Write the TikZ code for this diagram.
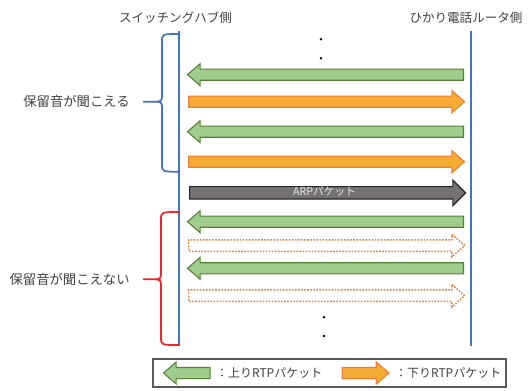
\documentclass[tikz,border=0pt]{standalone}
\usepackage{fontspec}
\setmainfont{Noto Sans CJK JP}
\usetikzlibrary{shapes.arrows,positioning}

\definecolor{lineblue}{HTML}{4472C4}
\definecolor{upfill}{RGB}{160,204,140}
\definecolor{updraw}{RGB}{84,130,53}
\definecolor{downfill}{RGB}{245,172,52}
\definecolor{downdraw}{HTML}{ED7D31}
\definecolor{arpfill}{RGB}{118,113,115}
\definecolor{bracered}{RGB}{236,38,38}
\definecolor{txtgray}{RGB}{64,64,64}

\begin{document}
\begin{tikzpicture}[%
    x=0.75pt, y=-0.75pt,        % one unit is one pixel of the sketch
    every node/.style={text=txtgray},
    ]
\useasboundingbox (0,0) rectangle (530,390);
% -------------------------------------------------
% Arrow and line styles
\tikzset{
  pkt/.style={single arrow, minimum height=207pt, minimum width=15.75pt,
    single arrow head extend=4.1pt, single arrow tip angle=82,
    inner xsep=0pt, inner ysep=3.75pt},
  uppkt/.style={pkt, shape border rotate=180, anchor=tail,
    fill=upfill, draw=updraw, line width=0.8pt},
  downpkt/.style={pkt, anchor=tail, fill=downfill, draw=downdraw, line width=0.8pt},
  lostpkt/.style={pkt, anchor=tail, fill=white, draw=downdraw,
    dash pattern=on 1.2pt off 1.1pt, line width=1.1pt},
  side/.style={draw=lineblue, line width=1.5pt},
  brace/.style={line width=1.3pt},
  title/.style={font=\fontsize{9.4}{11}\selectfont},
  lbl/.style={font=\fontsize{10}{12}\selectfont},
  legend/.style={font=\fontsize{9}{11}\selectfont}
}
% -------------------------------------------------
% Both sides
\node [title] (hubSide) at (175.5,18) {スイッチングハブ側};
\node [title] (routerSide) at (466,18) {ひかり電話ルータ側};
\coordinate (hubTop) at (179,31);
\coordinate (hubEnd) at (179,346);
\coordinate (routerTop) at (471,31);
\coordinate (routerEnd) at (471,346);
\draw [side] (hubTop) -- (hubEnd);
\draw [side] (routerTop) -- (routerEnd);

% dots above and below
\fill [black] (321,39.3) circle (1pt) (321,58.3) circle (1pt);
\fill [black] (324,317.3) circle (1pt) (324,336) circle (1pt);

% -------------------------------------------------
% Packets, top to bottom
\node [uppkt] (up1) at (464,74.7) {};
\node [downpkt] (down1) at (188,101.7) {};
\node [uppkt] (up2) at (464,131.7) {};
\node [downpkt] (down2) at (188,161.7) {};
\node [pkt, anchor=tail, fill=arpfill, draw=black!85, line width=0.9pt,
  minimum width=18pt, single arrow head extend=4.9pt, single arrow tip angle=90,
  inner ysep=0.6pt, text height=5.6pt, text depth=1.6pt,
  font=\fontsize{8}{9}\selectfont, text=white!92!black] (arp) at (189,192.8) {ARPパケット};
\node [uppkt] (up3) at (464,221.7) {};
\node [lostpkt] (lost1) at (188,245.6) {};
\node [uppkt] (up4) at (464,268.3) {};
\node [lostpkt] (lost2) at (188,295.7) {};

% -------------------------------------------------
% Braces with their labels
\coordinate (holdTip) at (143,101.7);
\coordinate (muteTip) at (143,279.3);
\draw [brace, draw=lineblue] (179,34) .. controls (162,34) .. (162,42) -- (162,94)
  .. controls (162,101.7) .. (152,101.7) -- (holdTip) -- (152,101.7)
  .. controls (162,101.7) .. (162,109) -- (162,164)
  .. controls (162,171.7) .. (179,171.7);
\draw [brace, draw=bracered] (179,212) .. controls (161,212) .. (161,220) -- (161,271.5)
  .. controls (161,279.3) .. (151,279.3) -- (muteTip) -- (151,279.3)
  .. controls (161,279.3) .. (161,287) -- (161,337)
  .. controls (161,345) .. (179,345);
\node [lbl, left=6.5pt of holdTip] (hold) {保留音が聞こえる};
\node [lbl, left=6.5pt of muteTip] (mute) {保留音が聞こえない};

% -------------------------------------------------
% Legend
\node [draw=black!65, line width=0.9pt, minimum width=264.75pt, minimum height=21pt,
  inner sep=0pt] (legendBox) at (329.5,373) {};
\node [uppkt, minimum height=35pt] (lgUp) at (210.7,373) {};
\node [legend, right=0.5pt of lgUp.tail] (lgUpTxt) {：上りRTPパケット};
\node [downpkt, minimum height=35pt] (lgDown) at (341.7,373) {};
\node [legend, right=0.5pt of lgDown.tip] (lgDownTxt) {：下りRTPパケット};
% -------------------------------------------------
\end{tikzpicture}
\end{document}
